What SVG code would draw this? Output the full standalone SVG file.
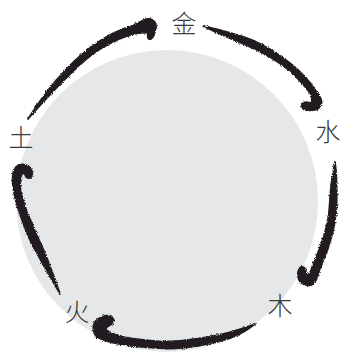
<svg xmlns="http://www.w3.org/2000/svg" width="344" height="353" viewBox="0 0 344 353">
<style>
.lbl{font-family:"Noto Sans CJK SC","Noto Sans CJK JP",sans-serif;font-size:25px;font-weight:200;fill:#3a3a3a;text-anchor:middle}
.brush{fill:#231f20;stroke:#231f20;stroke-width:1.8;stroke-linejoin:round;filter:url(#rough)}
</style>
<defs>
<filter id="rough" x="-10%" y="-10%" width="120%" height="120%">
<feTurbulence type="fractalNoise" baseFrequency="1.1" numOctaves="2" seed="3" result="n"/>
<feDisplacementMap in="SourceGraphic" in2="n" scale="3" xChannelSelector="R" yChannelSelector="G"/>
</filter>
</defs>
<rect width="344" height="353" fill="#ffffff"/>
<circle id="disc" cx="167" cy="201" r="151" fill="#e6e7e8"/>
<g id="connectors">
<path class="brush" d="M28,119 C40,100 52,84 65,70.6 C76,59 87,49 98.6,41.8 C110,34 121,29 132,26 C138,24 142,20 147,19 C152,18 157,22 156,28 C155,33 154,37 151,39 C148,40 147,37 148,33 C145,32 140,33 134,34 C123,36 112,42 101.4,48.2 C90,55 79,65 68.8,75.4 C56,88 42,103 28,119 Z"/>
<path class="brush" d="M203,26 C220,30 236,34 251.6,39.9 C266,46 280,55 292,64.8 C302,73 310,82 315.4,90.2 C319,95 323,100 321,105 C319,110 313,111 307,110 C303,110 301,107 302,104 C304,101 308,102 311,103 C313,101 312,98 310.6,93.8 C305,86 297,77 288,69.2 C276,60 263,52 248.4,46.1 C234,40 219,34 203,26 Z"/>
<path class="brush" d="M335,162 C337,177 337,192 336.5,207.1 C336,222 332,236 327.8,249.1 C325,256 322,263 319.6,269.6 C318,275 317,281 313,284 C309,287 302,285 299,280 C297,275 298,270 301,267 C304,266 306,269 306,273 C308,276 310,274 312.4,266.4 C315,260 318,253 320.2,246.9 C325,234 329,220 329.5,206.9 C330,192 332,177 335,162 Z"/>
<path class="brush" d="M255,324 C245,332 233,338 221,341 C205,345 188,349 170,348.5 C155,348 141,347 129,345.5 C118,344 106,342 99,338 C93,335 92,327 95,322 C98,317 105,315 110,316 C114,317 115,321 112,324 C108,326 105,327 106,330 C112,334 120,337 131,338.5 C145,340.5 158,342 170,341.5 C188,341 204,338 219,335 C232,332 244,328 255,324 Z"/>
<path class="brush" d="M60,294 C53,281 45,269 38.8,256.4 C32,245 27,234 23,222.6 C19,212 15,201 13.5,189.7 C12,181 12,172 16,167 C20,163 27,164 30,168 C33,171 33,176 30,178 C27,179 25,176 25,174 C23,172 21,174 20.5,178 C20,183 20,187 20.5,190.3 C23,201 26,211 31,221.4 C35,232 40,242 45.2,253.6 C50,266 55,279 60,294 Z"/>
</g>
<g id="node-jin"><text class="lbl" x="184" y="33">金</text></g>
<g id="node-shui"><text class="lbl" x="328" y="141">水</text></g>
<g id="node-mu"><text class="lbl" x="280" y="315">木</text></g>
<g id="node-huo"><text class="lbl" x="77" y="321">火</text></g>
<g id="node-tu"><text class="lbl" x="21" y="147">土</text></g>
</svg>
